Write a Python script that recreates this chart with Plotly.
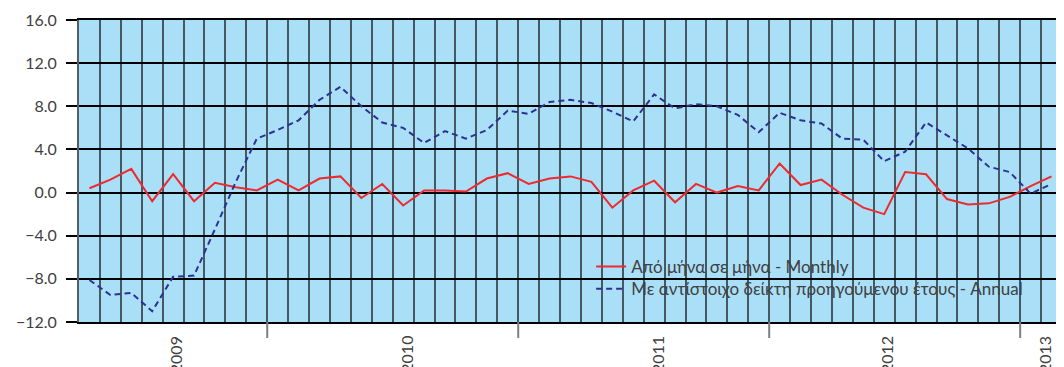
import pandas as pd
import plotly.graph_objects as go

# DATA
months = [d.strftime("%Y-%m") for d in pd.date_range("2009-04-01", "2013-02-01", freq="MS")]

monthly = [0.4, 1.2, 2.2, -0.8, 1.7, -0.8, 0.9, 0.5, 0.2, 1.2, 0.2, 1.3, 1.5, -0.5, 0.8, -1.2,
           0.2, 0.2, 0.1, 1.3, 1.8, 0.8, 1.3, 1.5, 1.0, -1.4, 0.2, 1.1, -0.9, 0.8, 0.0, 0.6,
           0.2, 2.7, 0.7, 1.2, -0.2, -1.4, -2.0, 1.9, 1.7, -0.6, -1.1, -1.0, -0.4, 0.6, 1.5]

annual = [-8.1, -9.5, -9.3, -11.0, -7.8, -7.7, -3.4, 1.0, 5.0, 5.8, 6.7, 8.6, 9.8, 8.0, 6.5, 6.0,
          4.6, 5.7, 5.0, 5.8, 7.6, 7.3, 8.4, 8.6, 8.3, 7.5, 6.6, 9.1, 7.8, 8.2, 8.0, 7.2,
          5.6, 7.4, 6.7, 6.4, 5.0, 4.9, 2.9, 3.8, 6.5, 5.3, 4.1, 2.4, 1.9, -0.1, 0.8]

years = ["2009", "2010", "2011", "2012", "2013"]
year_label_pos = [4.12, 15.14, 27.16, 38.11, 45.66]
year_breaks = [8.5, 20.5, 32.5, 44.5]

series_names = ["Από μήνα σε μήνα - Monthly",
                "Με αντίστοιχο δείκτη προηγούμενου έτους - Annual"]

TEXT = "#404040"
FONT = "Lato"

fig = go.Figure()
fig.add_trace(go.Scatter(x=months, y=monthly, mode="lines", name=series_names[0],
                         line=dict(color="#ee2a2f", width=2), legend="legend"))
fig.add_trace(go.Scatter(x=months, y=annual, mode="lines", name=series_names[1],
                         line=dict(color="#2e3192", width=2, dash="6px,4px"), legend="legend2"))

# year separators below the plot
for b in year_breaks:
    fig.add_shape(type="line", xref="x", yref="paper", x0=b, x1=b, y0=0, y1=-0.053,
                  line=dict(color="#7f7f7f", width=2))

for yr, pos in zip(years, year_label_pos):
    fig.add_annotation(x=pos, y=-0.04, xref="x", yref="paper", text=yr, textangle=-90,
                       showarrow=False, xanchor="center", yanchor="top",
                       font=dict(family=FONT, size=16, color=TEXT))

legend_style = dict(xanchor="left", yanchor="middle", bgcolor="rgba(0,0,0,0)",
                    font=dict(size=17, color=TEXT), itemwidth=30)

# the page body adds an 8px margin, so the figure is sized 8px smaller
fig.update_layout(
    width=1056, height=359,
    margin=dict(l=71, r=2, t=12, b=45, autoexpand=False),
    paper_bgcolor="white",
    plot_bgcolor="#aadff8",
    font=dict(family=FONT, color=TEXT),
    showlegend=True,
    legend=dict(x=0.521, y=0.182, **legend_style),
    legend2=dict(x=0.521, y=0.109, **legend_style),
    xaxis=dict(type="category", range=[-0.5, len(months) - 0.5], tickson="boundaries",
               showticklabels=False, ticks="", showgrid=True, automargin=False,
               gridcolor="rgba(45,55,60,0.8)", gridwidth=2,
               showline=True, linecolor="black", linewidth=1.5, mirror=True,
               zeroline=False),
    yaxis=dict(range=[-12, 16], tick0=-12, dtick=4, tickformat=".1f", automargin=False,
               ticks="outside", ticklen=11, tickcolor="black", tickwidth=1.5,
               ticklabelstandoff=6,
               gridcolor="black", gridwidth=1.5, zeroline=False,
               showline=True, linecolor="rgba(45,55,60,0.8)", linewidth=2, mirror=True,
               tickfont=dict(family=FONT, size=16, color=TEXT)),
)

fig.write_html("out.html")
